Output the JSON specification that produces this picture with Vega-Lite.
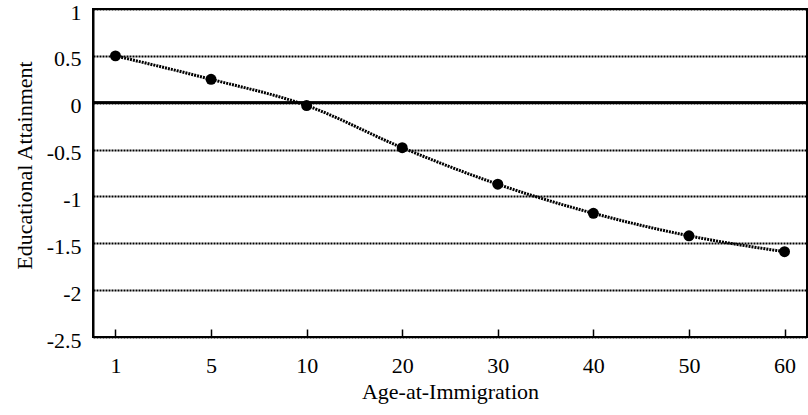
{
  "$schema": "https://vega.github.io/schema/vega-lite/v6.json",
  "autosize": "none",
  "width": 714,
  "height": 328,
  "padding": {"left": 93, "top": 9, "right": 1, "bottom": 78},
  "background": "white",
  "config": {
    "view": {"stroke": "black", "strokeWidth": 2},
    "font": "Liberation Serif"
  },
  "data": {
    "values": [
      {"age": "1", "val": 0.5},
      {"age": "5", "val": 0.25},
      {"age": "10", "val": -0.03},
      {"age": "20", "val": -0.48},
      {"age": "30", "val": -0.87},
      {"age": "40", "val": -1.18},
      {"age": "50", "val": -1.42},
      {"age": "60", "val": -1.59}
    ]
  },
  "encoding": {
    "x": {
      "field": "age", "type": "ordinal", "sort": null,
      "scale": {"type": "point", "padding": 0.235},
      "axis": {"title": "Age-at-Immigration", "labelAngle": 0, "domain": false, "grid": false, "ticks": true, "tickSize": -8, "tickColor": "black", "tickWidth": 1.5, "labelPadding": 26, "titlePadding": 5, "labelFont": "Liberation Serif", "titleFont": "Liberation Serif", "labelFontSize": 22, "titleFontSize": 22, "labelColor": "black", "titleColor": "black", "titleFontWeight": "normal"}
    },
    "y": {
      "field": "val", "type": "quantitative",
      "scale": {"domain": [-2.5, 1], "nice": false, "zero": false},
      "axis": {"title": "Educational Attainment", "values": [-2.5, -2, -1.5, -1, -0.5, 0, 0.5, 1], "labelExpr": "toString(datum.value)", "ticks": false, "domainColor": "black", "domainWidth": 2, "grid": true, "gridColor": "black", "gridWidth": 2, "gridDash": [2, 1], "gridOpacity": 1, "labelPadding": 12, "labelOffset": 3, "titlePadding": 10, "titleY": 156, "labelFont": "Liberation Serif", "titleFont": "Liberation Serif", "labelFontSize": 22, "titleFontSize": 22, "labelColor": "black", "titleColor": "black", "titleFontWeight": "normal"}
    }
  },
  "layer": [
    {"mark": {"type": "rule", "color": "black", "strokeWidth": 2}, "encoding": {"x": {"value": 0}, "x2": {"value": 714}, "y": {"datum": 0}}},
    {"mark": {"type": "line", "color": "black", "strokeWidth": 3, "strokeDash": [2, 1], "interpolate": "monotone"}},
    {"mark": {"type": "point", "filled": true, "color": "black", "opacity": 1, "size": 120}}
  ]
}
